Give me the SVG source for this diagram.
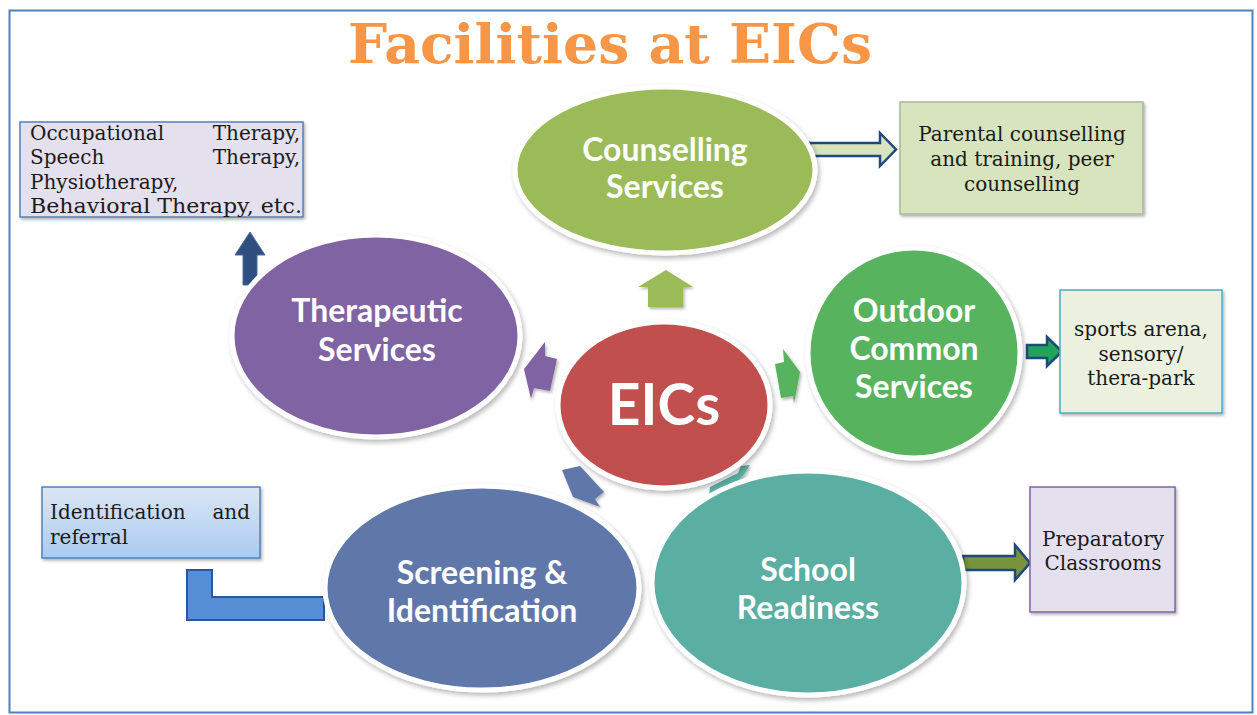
<svg xmlns="http://www.w3.org/2000/svg" width="1257" height="715" viewBox="0 0 1257 715">
<defs>
<filter id="sh" x="-10%" y="-10%" width="125%" height="125%">
<feDropShadow dx="2" dy="3" stdDeviation="2.5" flood-color="#000" flood-opacity="0.28"/>
</filter>
<filter id="shs" x="-20%" y="-20%" width="150%" height="150%">
<feDropShadow dx="1.5" dy="2" stdDeviation="1.5" flood-color="#000" flood-opacity="0.3"/>
</filter>
<linearGradient id="gblue" x1="0" y1="0" x2="0" y2="1">
<stop offset="0" stop-color="#DCE6F4"/>
<stop offset="1" stop-color="#A9CBF2"/>
</linearGradient>
</defs>
<style>
.ell{stroke:#fff;stroke-width:5;filter:url(#sh)}
.lbl{font-family:Lato,"Open Sans","Liberation Sans",sans-serif;font-weight:bold;fill:#fff;text-anchor:middle;font-size:32px}
.box{filter:url(#shs);stroke-width:1.5}
.bt{font-family:"DejaVu Serif","Liberation Serif",serif;font-size:20px;fill:#1a1a1a}
.c{text-anchor:middle}
.r{text-anchor:end}
.blk{stroke:#1F497D;stroke-width:2.5;stroke-linejoin:miter}
.sm{filter:url(#shs)}
</style>
<rect x="0" y="0" width="1257" height="715" fill="#fff"/>
<rect x="9.5" y="10.5" width="1243" height="702" fill="none" stroke="#4F81BD" stroke-width="2"/>
<g id="title">
<text x="610" y="63" text-anchor="middle" font-family="'DejaVu Serif','Liberation Serif',serif" font-weight="bold" font-size="55" fill="#F79646" textLength="524" lengthAdjust="spacingAndGlyphs">Facilities at EICs</text>
</g>
<g id="connectors">
<polygon class="blk" points="810,143 880,143 880,133 896,149.5 880,166 880,156 810,156" fill="#D7E4BD"/>
<polygon class="blk" points="1027,345 1047,345 1047,337 1062,351.5 1047,366 1047,358 1027,358" fill="#1FA45A" stroke-width="2"/>
<polygon class="blk" points="963,556 1015,556 1015,545 1030,563 1015,580 1015,570 963,570" fill="#77933C" stroke-width="2"/>
<polygon points="243,285 243,255 235,255 250,232 265,255 257,255 257,285" fill="#2E4F7F" stroke="#4F6F9F" stroke-width="1"/>
<polygon points="187,570 212,570 212,597 324,597 324,620 187,620" fill="#558ED5" stroke="#2F5597" stroke-width="2"/>
<polygon class="sm" points="666,270 693,287 683,287 683,307 648,307 648,287 638,287" fill="#9BBB59"/>
<polygon class="sm" points="545,342 545,356 557,359 550,391 534,388 531,399 524,369" fill="#8064A2"/>
<polygon class="sm" points="783,349 784,362 775,364 781,398 793,396 794,404 800,372" fill="#59B35F"/>
<polygon class="sm" points="562,470 580,466 604,492 595,499 600,507 573,497" fill="#5F78A9"/>
<polygon class="sm" points="710,487 738,473 741,466 750,465 743,476 722,497 708,503" fill="#5AAEA2"/>
</g>
<g id="therapy-box">
<rect class="box" x="20" y="122" width="283" height="95" fill="#E5E0EE" stroke="#4F81BD"/>
<text class="bt" x="30" y="140">Occupational</text>
<text class="bt r" x="300" y="140">Therapy,</text>
<text class="bt" x="30" y="164">Speech</text>
<text class="bt r" x="300" y="164">Therapy,</text>
<text class="bt" x="30" y="189">Physiotherapy,</text>
<text class="bt" x="30" y="213" textLength="272" lengthAdjust="spacingAndGlyphs">Behavioral Therapy, etc.</text>
</g>
<g id="parental-box">
<rect class="box" x="900" y="102" width="243" height="112" fill="#D7E4BD" stroke="#A9B99A"/>
<text class="bt c" x="1022" y="141">Parental counselling</text>
<text class="bt c" x="1022" y="166">and training, peer</text>
<text class="bt c" x="1022" y="191">counselling</text>
</g>
<g id="sports-box">
<rect class="box" x="1060" y="290" width="162" height="123" fill="#EBF1DE" stroke="#4BACC6"/>
<text class="bt c" x="1141" y="336">sports arena,</text>
<text class="bt c" x="1141" y="361">sensory/</text>
<text class="bt c" x="1141" y="385">thera-park</text>
</g>
<g id="identification-box">
<rect class="box" x="42" y="487" width="218" height="71" fill="url(#gblue)" stroke="#4F81BD"/>
<text class="bt" x="50" y="519">Identification</text>
<text class="bt r" x="250" y="519">and</text>
<text class="bt" x="50" y="544">referral</text>
</g>
<g id="preparatory-box">
<rect class="box" x="1030" y="487" width="145" height="125" fill="#E5E0EE" stroke="#8064A2"/>
<text class="bt c" x="1103" y="546">Preparatory</text>
<text class="bt c" x="1103" y="570">Classrooms</text>
</g>
<g id="counselling">
<ellipse class="ell" cx="665" cy="170" rx="150" ry="83" fill="#9BBB59"/>
<text class="lbl" x="665" y="161">Counselling</text>
<text class="lbl" x="665" y="198">Services</text>
</g>
<g id="therapeutic">
<ellipse class="ell" cx="376" cy="336" rx="144" ry="101" fill="#8064A2"/>
<text class="lbl" x="377" y="322">Therapeutic</text>
<text class="lbl" x="377" y="361">Services</text>
</g>
<g id="outdoor">
<ellipse class="ell" cx="914" cy="353" rx="106" ry="105" fill="#59B35F"/>
<text class="lbl" x="914" y="322">Outdoor</text>
<text class="lbl" x="914" y="360">Common</text>
<text class="lbl" x="914" y="398">Services</text>
</g>
<g id="screening">
<ellipse class="ell" cx="482" cy="588" rx="157" ry="102" fill="#5F78A9"/>
<text class="lbl" x="482" y="584">Screening &amp;</text>
<text class="lbl" x="482" y="622">Identification</text>
</g>
<g id="school">
<ellipse class="ell" cx="808" cy="583" rx="156" ry="112" fill="#5AAEA2"/>
<text class="lbl" x="808" y="581">School</text>
<text class="lbl" x="808" y="619">Readiness</text>
</g>
<g id="eics">
<ellipse class="ell" cx="664" cy="405" rx="106" ry="83" fill="#C0504D"/>
<text class="lbl" x="664" y="425" style="font-size:57px">EICs</text>
</g>
</svg>
